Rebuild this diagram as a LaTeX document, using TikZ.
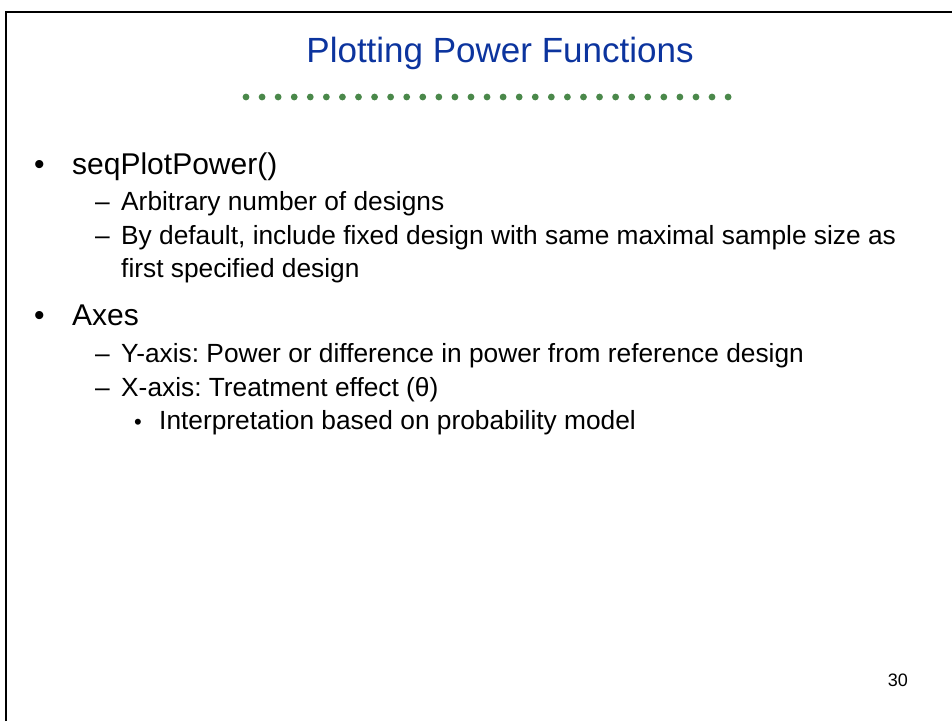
\documentclass[tikz,border=0pt]{standalone}
\usepackage{fontspec}
\setmainfont{Liberation Sans}
\definecolor{titleblue}{RGB}{12,52,158}
\definecolor{dotgreen}{RGB}{74,136,74}

\begin{document}
\frenchspacing
\begin{tikzpicture} [
        x=1pt, y=-1pt,
        heading/.style={text=titleblue, font=\fontsize{35}{35}\selectfont, inner sep=0, anchor=base},
        lvla/.style={font=\fontsize{30}{30}\selectfont, inner sep=0, anchor=base west},
        lvlb/.style={font=\fontsize{26.3}{26.3}\selectfont, inner sep=0, anchor=base west},
        lvlc/.style={font=\fontsize{26.3}{26.3}\selectfont, inner sep=0, anchor=base west},
        tick/.style={font=\fontsize{22}{22}\selectfont, inner sep=0, anchor=base west},
        gdot/.style={fill=dotgreen},
        frame/.style={line width=2.7pt, draw=black} ]
    \useasboundingbox (0,0) rectangle (952,721);
    \draw[frame] (6,721) -- (6,12) -- (952,12);
    \node[heading] (title) at (500,62) {Plotting Power Functions};
    \foreach \i in {0,...,30}
        \fill[gdot] ({246+16.07*\i},97) circle (3.4pt);
    % first bullet
    \node[lvla] (seqdot) at (34,174) {•};
    \node[lvla] (seq) at (72,174) {seqPlotPower()};
    \node[lvlb] (arbdash) at (95,210) {–};
    \node[lvlb] (arb) at (121,210) {Arbitrary number of designs};
    \node[lvlb] (defdash) at (95,244) {–};
    \node[lvlb] (def) at (121,244) {By default, include fixed design with same maximal sample size as};
    \node[lvlb] (first) at (121,277) {first specified design};
    % second bullet
    \node[lvla] (axesdot) at (34,325) {•};
    \node[lvla] (axes) at (72,325) {Axes};
    \node[lvlb] (ydash) at (95,362) {–};
    \node[lvlb] (yaxis) at (121,362) {Y-axis: Power or difference in power from reference design};
    \node[lvlb] (xdash) at (95,396) {–};
    \node[lvlb] (xaxis) at (121,396) {X-axis: Treatment effect (θ)};
    \node[tick] (interpdot) at (134,429) {•};
    \node[lvlc] (interp) at (159,429) {Interpretation based on probability model};
    \node[font=\fontsize{18}{18}\selectfont, inner sep=0, anchor=base east] (pagenum) at (908,686) {30};
\end{tikzpicture}
\end{document}
